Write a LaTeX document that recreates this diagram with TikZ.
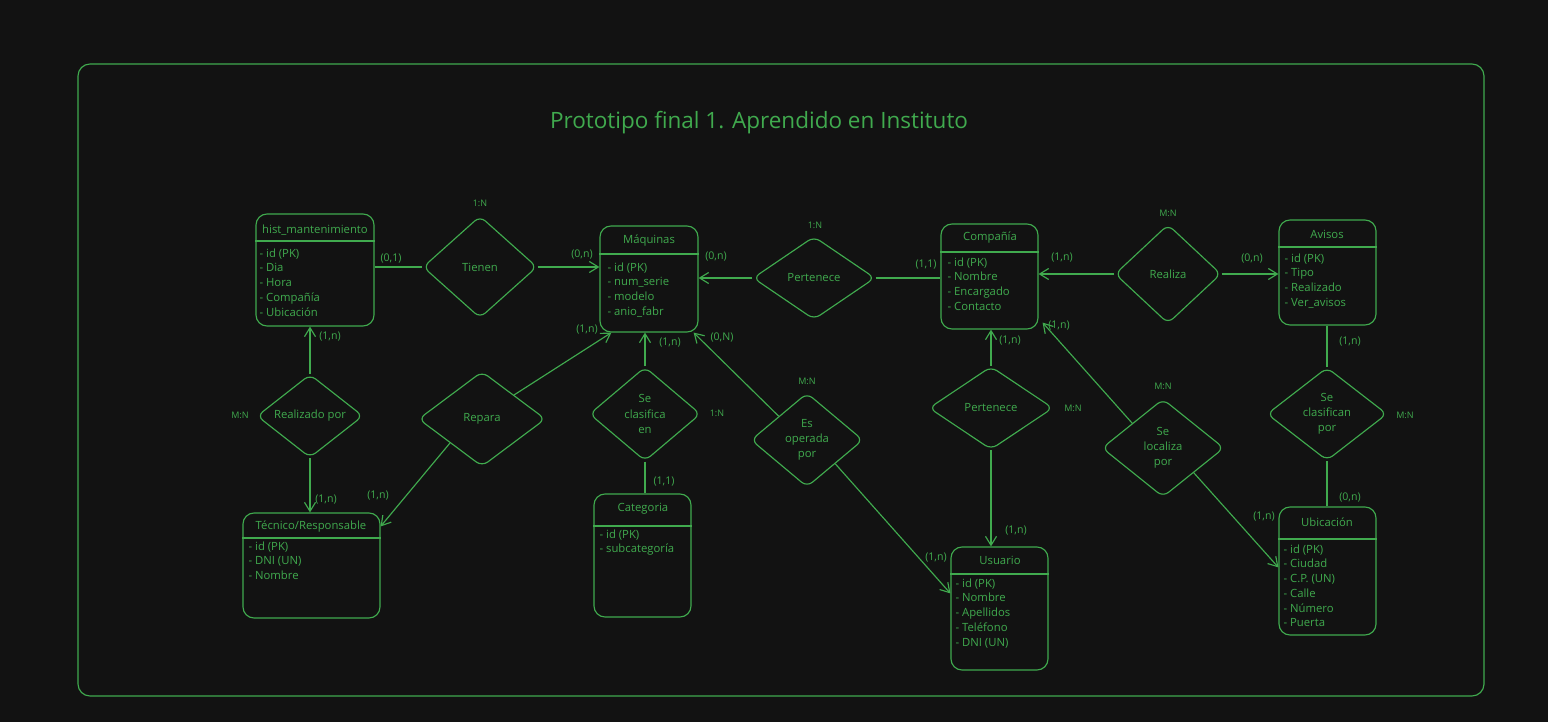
\documentclass[tikz,border=0pt]{standalone}
\usepackage{fontspec}
\setmainfont{Open Sans}
\usetikzlibrary{shapes.geometric,arrows.meta}
\definecolor{bg}{HTML}{121212}
\definecolor{gr}{RGB}{64,170,78}
\begin{document}
\begin{tikzpicture}[x=1pt,y=-1pt,
  every path/.style={line width=1.15pt},
  ent/.style={draw=gr, rounded corners=11pt, rectangle, inner sep=0pt},
  rel/.style={draw=gr, diamond, rounded corners=7pt, inner sep=0pt, text=gr, align=center,
    font=\fontsize{11.3}{15.2}\selectfont},
  etitle/.style={text=gr, font=\fontsize{11.3}{13}\selectfont, inner sep=0pt},
  attrs/.style={text=gr, font=\fontsize{11.3}{14.75}\selectfont, align=left, anchor=north west, inner sep=0pt},
  card/.style={text=gr, font=\fontsize{10.6}{12}\selectfont, inner sep=0pt},
  ratio/.style={text=gr, font=\fontsize{9}{10}\selectfont, inner sep=0pt},
  ln/.style={draw=gr},
  arr/.style={draw=gr, -{Straight Barb[length=9pt,width=11pt]}},
  hdr/.style={draw=gr}
]
\useasboundingbox (0,0) rectangle (1548,722);
\fill[bg] (0,0) rectangle (1548,722);
\draw[gr, rounded corners=12pt] (78,64) rectangle (1484,696);
\node[text=gr, font=\fontsize{22.5}{26}\selectfont] (title) at (759,123) {Prototipo final 1. Aprendido en Instituto};

% entities
\node[ent, minimum width=118, minimum height=112] (hist) at (315,270) {};
\node[ent, minimum width=98, minimum height=106] (maq) at (649,279) {};
\node[ent, minimum width=97, minimum height=105] (comp) at (989.5,276.5) {};
\node[ent, minimum width=97, minimum height=105] (avisos) at (1327.5,272.5) {};
\node[ent, minimum width=137, minimum height=105] (tec) at (311.5,565.5) {};
\node[ent, minimum width=97, minimum height=123] (cat) at (642.5,555.5) {};
\node[ent, minimum width=97, minimum height=123] (usu) at (999.5,608.5) {};
\node[ent, minimum width=97, minimum height=128] (ubi) at (1327.5,571) {};

% header lines
\draw[hdr] (hist.west |- 0,241) -- (hist.east |- 0,241);
\draw[hdr] (maq.west |- 0,254) -- (maq.east |- 0,254);
\draw[hdr] (comp.west |- 0,252) -- (comp.east |- 0,252);
\draw[hdr] (avisos.west |- 0,247) -- (avisos.east |- 0,247);
\draw[hdr] (tec.west |- 0,538) -- (tec.east |- 0,538);
\draw[hdr] (cat.west |- 0,526) -- (cat.east |- 0,526);
\draw[hdr] (usu.west |- 0,574) -- (usu.east |- 0,574);
\draw[hdr] (ubi.west |- 0,539) -- (ubi.east |- 0,539);

% entity titles
\node[etitle] (histT) at (315,230) {hist\_mantenimiento};
\node[etitle] (maqT) at (649,241) {Máquinas};
\node[etitle] (compT) at (990,238) {Compañía};
\node[etitle] (avisosT) at (1327,234) {Avisos};
\node[etitle] (tecT) at (311,527) {Técnico/Responsable};
\node[etitle] (catT) at (643,509) {Categoria};
\node[etitle] (usuT) at (1000,560) {Usuario};
\node[etitle] (ubiT) at (1327,522) {Ubicación};

% attributes
\node[attrs] (histA) at (259,248) {- id (PK)\\- Dia\\- Hora\\- Compañía\\- Ubicación};
\node[attrs] (maqA) at (607,262) {- id (PK)\\- num\_serie\\- modelo\\- anio\_fabr};
\node[attrs] (compA) at (947,257) {- id (PK)\\- Nombre\\- Encargado\\- Contacto};
\node[attrs] (avisosA) at (1284,253) {- id (PK)\\- Tipo\\- Realizado\\- Ver\_avisos};
\node[attrs] (tecA) at (248,541) {- id (PK)\\- DNI (UN)\\- Nombre};
\node[attrs] (catA) at (599,529) {- id (PK)\\- subcategoría};
\node[attrs] (usuA) at (955,578) {- id (PK)\\- Nombre\\- Apellidos\\- Teléfono\\- DNI (UN)};
\node[attrs] (ubiA) at (1283,544) {- id (PK)\\- Ciudad\\- C.P. (UN)\\- Calle\\- Número\\- Puerta};

% relationships
\node[rel, minimum width=114, minimum height=102] (tienen) at (480,267) {Tienen};
\node[rel, minimum width=122, minimum height=83] (pert1) at (814,278) {Pertenece};
\node[rel, minimum width=106, minimum height=99] (realiza) at (1168,274) {Realiza};
\node[rel, minimum width=106, minimum height=81] (realizado) at (310,416) {Realizado por};
\node[rel, minimum width=127, minimum height=95] (repara) at (482,419) {Repara};
\node[rel, minimum width=111, minimum height=94] (sclas) at (645,414) {Se\\clasifica\\en};
\node[rel, minimum width=112, minimum height=94] (esop) at (807,440) {Es\\operada\\por};
\node[rel, minimum width=124, minimum height=83] (pert2) at (991,408) {Pertenece};
\node[rel, minimum width=122, minimum height=98] (sloc) at (1163,448) {Se\\localiza\\por};
\node[rel, minimum width=120, minimum height=93] (sclasp) at (1327,414) {Se\\clasifican\\por};

% connectors
\draw[ln] (tienen.west -| hist.east) -- (tienen.west);
\draw[arr] (tienen.east) -- (tienen.east -| maq.west);
\draw[ln] (pert1.east) -- (pert1.east -| comp.west);
\draw[arr] (pert1.west) -- (pert1.west -| maq.east);
\draw[arr] (realiza.west) -- (realiza.west -| comp.east);
\draw[arr] (realiza.east) -- (realiza.east -| avisos.west);
\draw[arr] (realizado.north) -- (realizado.north |- hist.south);
\draw[arr] (realizado.south) -- (realizado.south |- tec.north);
\draw[arr] (repara.north east) -- ([xshift=12pt]maq.south west);
\draw[arr] (repara.south west) -- ([yshift=-14pt]tec.north east);
\draw[arr] (sclas.north) -- (sclas.north |- maq.south);
\draw[ln] (sclas.south) -- (sclas.south |- cat.north);
\draw[arr] (esop.north west) -- ([xshift=-5pt]maq.south east);
\draw[arr] (esop.south east) -- ([yshift=-47pt]usu.north west);
\draw[arr] (pert2.north) -- (pert2.north |- comp.south);
\draw[arr] (pert2.south) -- (pert2.south |- usu.north);
\draw[arr] (sloc.north west) -- ([xshift=4pt,yshift=7pt]comp.south east);
\draw[arr] (sloc.south east) -- ([yshift=-61pt]ubi.north west);
\draw[ln] (sclasp.north) -- (sclasp.north |- avisos.south);
\draw[ln] (sclasp.south) -- (sclasp.south |- ubi.north);

% cardinalities
\node[card] (c1) at (391,258) {(0,1)};
\node[card] (c2) at (582,254) {(0,n)};
\node[ratio] (r1) at (480,203) {1:N};
\node[card] (c3) at (716,256) {(0,n)};
\node[card] (c4) at (926,265) {(1,1)};
\node[ratio] (r2) at (815,225) {1:N};
\node[card] (c5) at (1062,258) {(1,n)};
\node[card] (c6) at (1252,258) {(0,n)};
\node[ratio] (r3) at (1168,213) {M:N};
\node[card] (c7) at (330,337) {(1,n)};
\node[card] (c8) at (326,500) {(1,n)};
\node[ratio] (r4) at (240,415) {M:N};
\node[card] (c9) at (587,330) {(1,n)};
\node[card] (c10) at (378,496) {(1,n)};
\node[card] (c11) at (670,343) {(1,n)};
\node[card] (c12) at (664,482) {(1,1)};
\node[ratio] (r5) at (717,413) {1:N};
\node[card] (c13) at (722,337) {(0,N)};
\node[card] (c14) at (936,558) {(1,n)};
\node[ratio] (r6) at (807,381) {M:N};
\node[card] (c15) at (1010,341) {(1,n)};
\node[card] (c16) at (1016,531) {(1,n)};
\node[ratio] (r7) at (1073,408) {M:N};
\node[card] (c17) at (1059,326) {(1,n)};
\node[card] (c18) at (1264,517) {(1,n)};
\node[ratio] (r8) at (1163,386) {M:N};
\node[card] (c19) at (1350,342) {(1,n)};
\node[card] (c20) at (1350,497) {(0,n)};
\node[ratio] (r9) at (1405,415) {M:N};
\end{tikzpicture}
\end{document}
